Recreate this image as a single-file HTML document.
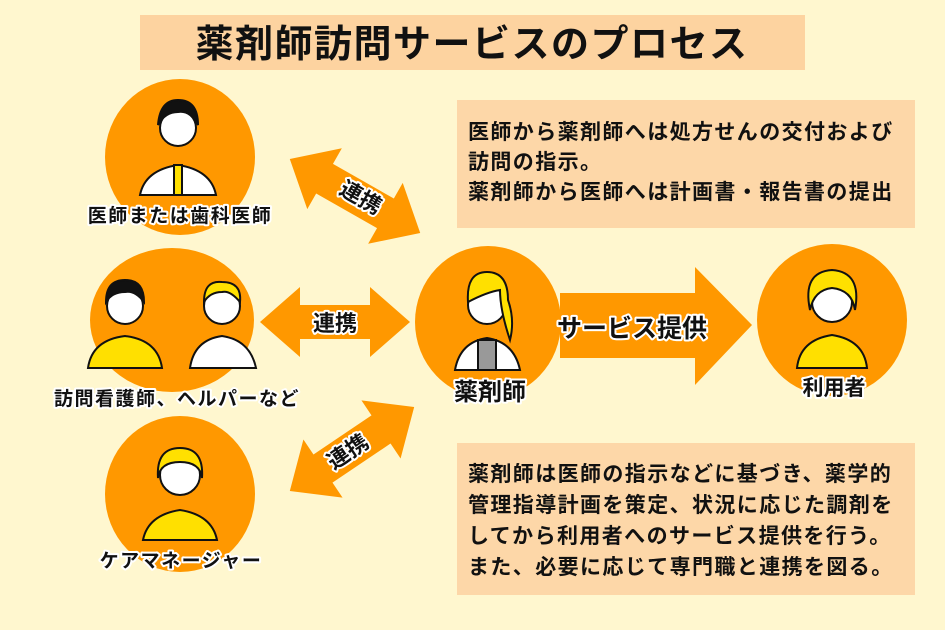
<!DOCTYPE html>
<html><head><meta charset="utf-8"><style>
body{margin:0;background:#FFF7CF;}
svg{display:block}
text{font-family:"Liberation Sans","Noto Sans CJK JP",sans-serif;font-weight:bold;}
.o{fill:#111;stroke:#fff;stroke-width:4;paint-order:stroke;stroke-linejoin:round}
.b{fill:#111}
.l{font-size:19px;letter-spacing:1.5px}
.t{font-size:21px;letter-spacing:1.4px}
</style></head><body>
<svg width="945" height="630" viewBox="0 0 945 630">
<rect width="945" height="630" fill="#FFF7CF"/>
<rect x="140" y="15" width="665" height="55" fill="#FDD3A0"/>
<text x="472" y="57" text-anchor="middle" font-size="38" letter-spacing="1.5" class="b">薬剤師訪問サービスのプロセス</text>

<ellipse cx="180" cy="157" rx="75" ry="78" fill="#FF9800"/>
<ellipse cx="172" cy="320" rx="82" ry="72" fill="#FF9800"/>
<ellipse cx="180" cy="494" rx="75" ry="78" fill="#FF9800"/>
<ellipse cx="488" cy="322" rx="73" ry="76" fill="#FF9800"/>
<ellipse cx="832" cy="320" rx="75" ry="76" fill="#FF9800"/>

<polygon points="560,293 695,293 695,267 752,325 695,385 695,358 560,358" fill="#FF9800"/>
<text x="632" y="337" text-anchor="middle" font-size="25" class="o">サービス提供</text>

<g fill="#FF9800">
<g transform="translate(355,196) rotate(29.6)"><polygon points="-75,0 -35,-35 -35,-17 35,-17 35,-35 75,0 35,35 35,17 -35,17 -35,35"/></g>
<g transform="translate(335,322)"><polygon points="-75,0 -35,-35 -35,-17 35,-17 35,-35 75,0 35,35 35,17 -35,17 -35,35"/></g>
<g transform="translate(352,449) rotate(-34)"><polygon points="-75,0 -35,-35 -35,-17 35,-17 35,-35 75,0 35,35 35,17 -35,17 -35,35"/></g>
</g>
<text transform="translate(357,204) rotate(29.6)" text-anchor="middle" font-size="22" class="o">連携</text>
<text x="335" y="331" text-anchor="middle" font-size="22" class="o">連携</text>
<text transform="translate(352,458) rotate(-34)" text-anchor="middle" font-size="22" class="o">連携</text>

<g stroke="#111" stroke-width="2">
<path d="M140,195 Q145,170 178,165 Q211,170 216,195 Z" fill="#fff"/>
<rect x="174" y="165" width="8" height="30" fill="#FFE000"/>
<circle cx="178" cy="128" r="18" fill="#fff"/>
<path d="M158,125 Q160,100 178,100 Q198,100 198,125 Q190,110 178,112 Q165,112 158,125Z" fill="#111"/>
<path d="M88,368 Q92,340 125,336 Q158,340 162,368 Z" fill="#FFE000"/>
<circle cx="125" cy="306" r="18" fill="#fff"/>
<path d="M106,302 Q106,280 125,280 Q144,280 144,302 Q135,290 125,292 Q112,292 106,302Z" fill="#111"/>
<path d="M190,368 Q194,340 222,336 Q250,340 256,368 Z" fill="#fff"/>
<circle cx="222" cy="306" r="18" fill="#fff"/>
<path d="M204,302 Q204,280 222,282 Q242,282 240,302 Q230,290 222,292 Q210,292 204,302Z" fill="#FFE000"/>
<path d="M143,540 Q148,515 180,510 Q212,515 217,540 Z" fill="#FFE000"/>
<circle cx="180" cy="475" r="20" fill="#fff"/>
<path d="M158,478 Q156,448 180,448 Q204,448 202,478 Q200,462 180,462 Q160,462 158,478Z" fill="#FFE000"/>
<path d="M455,370 Q460,342 487,338 Q514,342 520,370 Z" fill="#fff"/>
<rect x="478" y="340" width="18" height="30" fill="#999"/>
<circle cx="487" cy="305" r="19" fill="#fff"/>
<path d="M468,302 Q466,272 487,272 Q508,272 508,300 Q515,320 510,340 Q500,310 500,290 Q487,292 468,302Z" fill="#FFE000"/>
<path d="M797,368 Q800,340 832,335 Q864,340 867,368 Z" fill="#FFE000"/>
<circle cx="832" cy="302" r="20" fill="#fff"/>
<path d="M810,310 Q802,272 832,270 Q862,272 855,310 Q852,290 832,288 Q814,290 810,310Z" fill="#FFE000"/>
</g>

<text x="180" y="222" text-anchor="middle" class="o l">医師または歯科医師</text>
<text x="177" y="405" text-anchor="middle" class="o l">訪問看護師、ヘルパーなど</text>
<text x="181" y="567" text-anchor="middle" class="o l">ケアマネージャー</text>
<text x="490" y="400" text-anchor="middle" font-size="24" class="o">薬剤師</text>
<text x="834" y="395" text-anchor="middle" font-size="21" class="o">利用者</text>

<rect x="457" y="100" width="458" height="128" fill="#FDD7A8"/>
<text x="468" y="139" class="b t">医師から薬剤師へは処方せんの交付および</text>
<text x="468" y="169" class="b t">訪問の指示。</text>
<text x="468" y="199" class="b t">薬剤師から医師へは計画書・報告書の提出</text>
<rect x="457" y="443" width="458" height="152" fill="#FDD7A8"/>
<text x="468" y="481" class="b t">薬剤師は医師の指示などに基づき、薬学的</text>
<text x="468" y="512" class="b t">管理指導計画を策定、状況に応じた調剤を</text>
<text x="468" y="543" class="b t">してから利用者へのサービス提供を行う。</text>
<text x="468" y="574" class="b t">また、必要に応じて専門職と連携を図る。</text>
</svg>
</body></html>
